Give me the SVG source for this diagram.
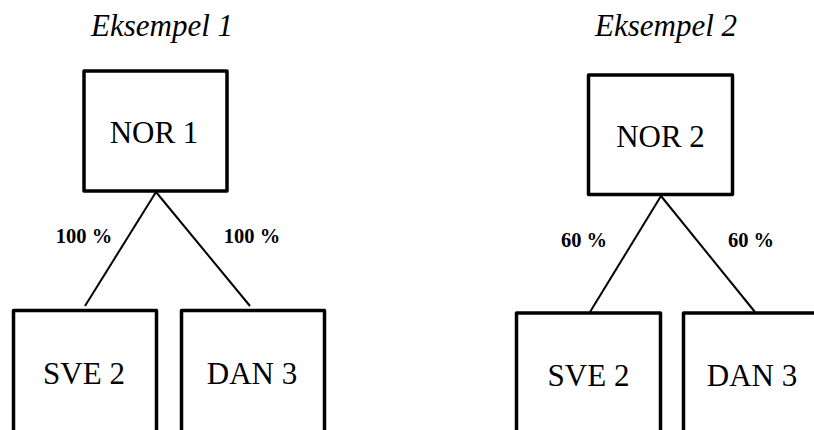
<svg xmlns="http://www.w3.org/2000/svg" width="814" height="430" viewBox="0 0 814 430">
<style>
.box{fill:#fff;stroke:#000;stroke-width:3.5;stroke-linejoin:round}
.t{font-family:'Liberation Serif','DejaVu Serif',serif;font-size:31px;fill:#000;text-anchor:middle}
.ti{font-family:'Liberation Serif','DejaVu Serif',serif;font-size:31px;font-style:italic;fill:#000;text-anchor:middle}
.p{font-family:'Liberation Serif','DejaVu Serif',serif;font-size:20.5px;font-weight:bold;fill:#000;text-anchor:middle}
.c{stroke:#000;stroke-width:2;fill:none}
</style>
<rect width="814" height="430" fill="#fff"/>
<text class="ti" x="162" y="36">Eksempel 1</text>
<text class="ti" x="666" y="36">Eksempel 2</text>
<g id="connectors">
<line class="c" x1="156" y1="192" x2="85" y2="306"/>
<line class="c" x1="156" y1="192" x2="250" y2="306"/>
<line class="c" x1="661" y1="196" x2="590" y2="312"/>
<line class="c" x1="661" y1="196" x2="755" y2="312"/>
</g>
<g id="nor1"><rect class="box" x="84" y="71" width="143" height="120"/><text class="t" x="154" y="143">NOR 1</text></g>
<g id="sve2a"><rect class="box" x="13.5" y="310.5" width="143" height="140"/><text class="t" x="84" y="384">SVE 2</text></g>
<g id="dan3a"><rect class="box" x="181.5" y="310.5" width="143" height="140"/><text class="t" x="252" y="384">DAN 3</text></g>
<g id="nor2"><rect class="box" x="588.5" y="75" width="144" height="119.5"/><text class="t" x="660.5" y="147">NOR 2</text></g>
<g id="sve2b"><rect class="box" x="516.5" y="313" width="144" height="140"/><text class="t" x="588.5" y="386">SVE 2</text></g>
<g id="dan3b"><rect class="box" x="683.5" y="313" width="144" height="140"/><text class="t" x="752" y="386">DAN 3</text></g>
<text class="p" x="84" y="243">100 %</text>
<text class="p" x="252" y="243">100 %</text>
<text class="p" x="584" y="247">60 %</text>
<text class="p" x="751" y="247">60 %</text>
</svg>
